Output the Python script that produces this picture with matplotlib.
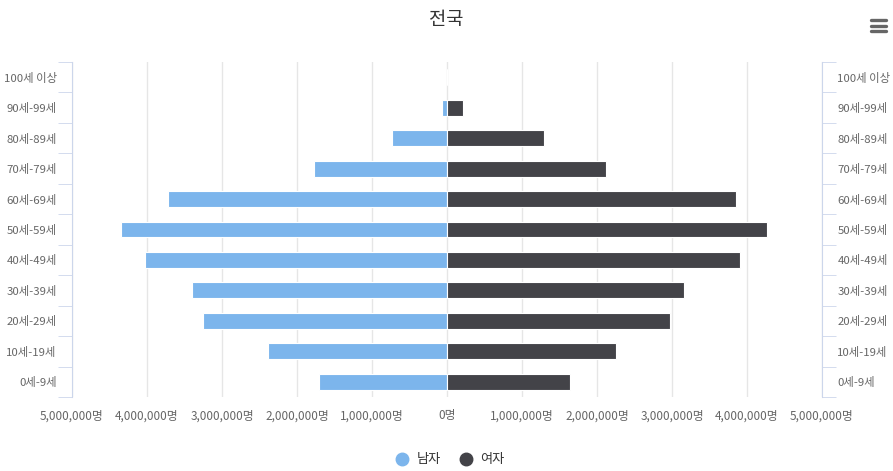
import matplotlib.pyplot as plt
import numpy as np
from matplotlib.lines import Line2D
from matplotlib.ticker import FuncFormatter, FixedLocator

plt.rcParams['font.family'] = ['Noto Sans CJK KR', 'DejaVu Sans']

ages = ['0세-9세', '10세-19세', '20세-29세', '30세-39세', '40세-49세', '50세-59세',
        '60세-69세', '70세-79세', '80세-89세', '90세-99세', '100세 이상']
male = [1710000, 2390000, 3250000, 3400000, 4030000, 4350000,
        3720000, 1770000, 730000, 70000, 1000]
female = [1640000, 2250000, 2970000, 3160000, 3910000, 4270000,
          3850000, 2120000, 1290000, 210000, 5000]
xticks = [-5000000, -4000000, -3000000, -2000000, -1000000, 0,
          1000000, 2000000, 3000000, 4000000, 5000000]

c_male = '#7cb5ec'
c_female = '#434348'
axis_col = '#ccd6eb'
txt_col = '#666666'

fig = plt.figure(figsize=(8.93, 4.71), dpi=100)
W, H = 893, 471
ax = fig.add_axes([72 / W, 1 - 397 / H, (822 - 72) / W, (397 - 62) / H])

y = np.arange(len(ages))
ax.barh(y, -np.array(male), height=0.52, color=c_male, edgecolor='white', linewidth=0.8, zorder=3)
ax.barh(y, female, height=0.52, color=c_female, edgecolor='white', linewidth=0.8, zorder=3)

ax.set_xlim(-5000000, 5000000)
ax.set_ylim(-0.5, len(ages) - 0.5)
ax.set_xticks(xticks)
ax.xaxis.set_major_formatter(FuncFormatter(lambda v, p: f"{abs(int(v)):,}명"))
ax.tick_params(axis='x', length=0, labelsize=8.5, labelcolor=txt_col, pad=9)
ax.grid(axis='x', color='#e6e6e6', linewidth=1, zorder=0)

for s in ['top', 'bottom', 'right']:
    ax.spines[s].set_visible(False)
ax.spines['left'].set_color(axis_col)

ax.set_yticks(y)
ax.set_yticklabels(ages)
ax.yaxis.set_minor_locator(FixedLocator(np.arange(-0.5, len(ages), 1)))
ax.tick_params(axis='y', which='major', length=0, labelsize=8.2, labelcolor=txt_col, pad=11)
ax.tick_params(axis='y', which='minor', length=10, color=axis_col)

ax2 = ax.twinx()
ax2.set_ylim(ax.get_ylim())
ax2.set_yticks(y)
ax2.set_yticklabels(ages)
ax2.yaxis.set_minor_locator(FixedLocator(np.arange(-0.5, len(ages), 1)))
ax2.tick_params(axis='y', which='major', length=0, labelsize=8.2, labelcolor=txt_col, pad=11)
ax2.tick_params(axis='y', which='minor', length=10, color=axis_col)
for s in ['top', 'bottom', 'left']:
    ax2.spines[s].set_visible(False)
ax2.spines['right'].set_color(axis_col)

fig.text(0.5, 1 - 19 / H, '전국', ha='center', va='center', fontsize=13.5, color='#333333')

# menu icon
for dy in [20, 25.5, 31]:
    fig.add_artist(Line2D([871 / W, 886 / W], [1 - dy / H, 1 - dy / H],
                          color='#666666', linewidth=2.4, solid_capstyle='round'))

handles = [Line2D([], [], marker='o', linestyle='none', markersize=9, color=c_male),
           Line2D([], [], marker='o', linestyle='none', markersize=9, color=c_female)]
fig.legend(handles, ['남자', '여자'], loc='center', bbox_to_anchor=(0.5, 1 - 460 / H),
           ncol=2, frameon=False, fontsize=9.5, labelcolor='#333333',
           handletextpad=0.1, columnspacing=0.9)

fig.savefig('out.png', dpi=100)
